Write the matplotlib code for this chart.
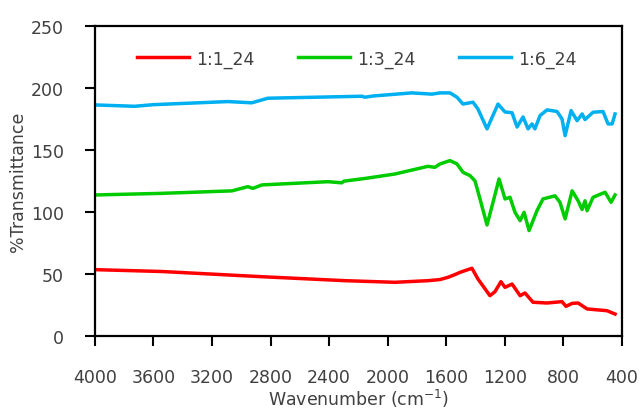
import matplotlib
matplotlib.use('Agg')
import matplotlib.pyplot as plt

# wavenumbers (cm-1) and %T values
wn_red = [4000, 3543, 2859, 2292, 1951, 1725, 1643, 1589, 1541, 1507, 1425, 1384, 1302, 1268,
          1227, 1199, 1151, 1096, 1063, 1008, 912, 810, 783, 741, 700, 639, 503, 448]
t_red = [53.5, 52, 47.8, 44.6, 43.3, 44.6, 45.5, 47.3, 49.5, 51.3, 54.6, 46, 32.5, 35.7,
         43.8, 39.2, 41.9, 32.5, 34.7, 27.2, 26.6, 27.7, 23.9, 26.3, 26.6, 21.8, 20.4, 17.7]

wn_green = [4000, 3543, 3064, 2955, 2921, 2859, 2408, 2313, 2300, 2156, 1951, 1725, 1678, 1643,
            1575, 1527, 1486, 1438, 1404, 1370, 1322, 1281, 1240, 1199, 1165, 1131, 1096, 1069,
            1035, 981, 940, 858, 824, 789, 741, 700, 673, 653, 639, 598, 516, 475, 448]
t_green = [113.7, 115, 117, 120.4, 119, 121.8, 124.4, 123.5, 124.8, 127, 130.6, 136.8, 136, 138.7,
           141.4, 138.7, 132, 129.3, 125, 110.5, 89.5, 107.8, 126.6, 110.5, 111.8, 99.7, 93, 99.7,
           85, 101, 110.5, 113, 107.8, 94.4, 117, 109, 102, 109, 101, 111.8, 115.9, 107.8, 113.7]

wn_blue = [4000, 3727, 3600, 3091, 2928, 2818, 2176, 2156, 2100, 1835, 1698, 1643, 1575, 1527,
           1486, 1418, 1384, 1322, 1247, 1199, 1151, 1117, 1076, 1042, 1015, 995, 960, 912, 844,
           810, 789, 748, 707, 673, 653, 598, 530, 496, 468, 448]
t_blue = [186.3, 185.2, 186.5, 189, 188, 191.7, 193.3, 192.5, 193.5, 196, 195, 196, 196, 192.5,
          187, 188.5, 183, 167, 187, 180.6, 180, 168.5, 176.6, 167, 171, 167, 177.7, 182.3, 181,
          175, 161.5, 181.7, 173.6, 179, 174.5, 180.4, 181, 171, 171, 179]

labels = ['1:1_24', '1:3_24', '1:6_24']
colors = ['#FF0000', '#00CC00', '#00B0F0']
x_ticks = [4000, 3600, 3200, 2800, 2400, 2000, 1600, 1200, 800, 400]
y_ticks = [0, 50, 100, 150, 200, 250]

plt.rcParams['font.family'] = ['DejaVu Sans']
text_color = '#404040'
fs = 12.5

fig = plt.figure(figsize=(6.4, 4.14), dpi=100)
ax = fig.add_axes([0.148, 0.186, 0.824, 0.749])

for wn, t, lab, c in zip([wn_red, wn_green, wn_blue], [t_red, t_green, t_blue], labels, colors):
    ax.plot(wn, t, color=c, lw=2.5, label=lab, solid_joinstyle='round')

ax.set_xlim(4000, 400)
ax.set_ylim(0, 250)
ax.set_xticks(x_ticks)
ax.set_yticks(y_ticks)
ax.tick_params(axis='x', direction='out', length=7, width=1.5, pad=16, labelsize=fs, labelcolor=text_color)
ax.tick_params(axis='y', direction='out', length=7, width=1.5, pad=15, labelsize=fs, labelcolor=text_color)
for s in ax.spines.values():
    s.set_linewidth(1.6)
    s.set_color('black')

ax.set_xlabel('Wavenumber (cm$^{-1}$)', fontsize=fs, color=text_color, labelpad=1)
ax.set_ylabel('%Transmittance', fontsize=fs, color=text_color, labelpad=3)

leg = ax.legend(loc='upper center', ncol=3, frameon=False, fontsize=fs, handlelength=3.0,
                columnspacing=2.5, handletextpad=0.4, bbox_to_anchor=(0.497, 0.975))
for t in leg.get_texts():
    t.set_color(text_color)

fig.savefig('out.png', dpi=100)
